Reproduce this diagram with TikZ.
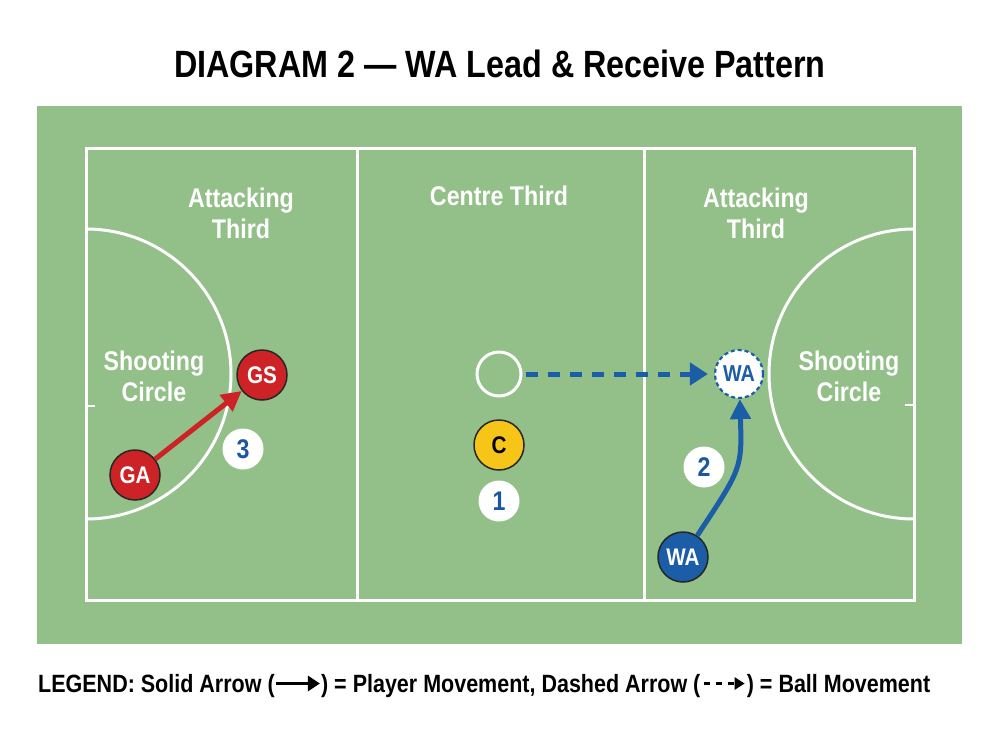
\documentclass[tikz,border=0pt]{standalone}
\usepackage{fontspec}
\setmainfont{Liberation Sans}[FakeStretch=0.86]
\newfontfamily\titlefont{Liberation Sans}[FakeStretch=0.85]
\usetikzlibrary{arrows.meta}
\definecolor{courtgreen}{HTML}{93BF88}
\definecolor{netred}{HTML}{CD2327}
\definecolor{netblue}{HTML}{1B5DA6}
\definecolor{numblue}{HTML}{1A57A3}
\definecolor{netyellow}{HTML}{F7C518}
\tikzset{
  court/.style={draw=white, line width=3pt},
  courtlabel/.style={text=white, font=\bfseries\fontsize{27}{31}\selectfont, align=center, inner sep=0pt},
  player/.style={circle, minimum size=50pt, inner sep=0pt, draw=black!85, line width=1.5pt, text=white, font=\bfseries\fontsize{24}{26}\selectfont},
  ghost/.style={circle, minimum size=48pt, inner sep=0pt, fill=white, draw=netblue, line width=2.2pt, dash pattern=on 4pt off 3pt, text=netblue, font=\bfseries\fontsize{23}{24}\selectfont},
  ballmark/.style={circle, minimum size=44pt, inner sep=0pt, draw=white, line width=3pt},
  num/.style={circle, minimum size=41pt, inner sep=0pt, fill=white, text=numblue, font=\bfseries\fontsize{27}{28}\selectfont},
  redarrow/.style={draw=netred, line width=5pt, -{Triangle[length=20pt,width=20pt]}},
  bluearrow/.style={draw=netblue, line width=5pt, -{Triangle[length=20pt,width=20pt]}},
  ballarrow/.style={draw=netblue, line width=5pt, dash pattern=on 12pt off 10pt, -{Triangle[length=18pt,width=22pt]}, shorten >=6pt, shorten <=3pt},
  legendtext/.style={anchor=base west, inner sep=0pt, font=\bfseries\fontsize{25}{27}\selectfont},
  legendsolid/.style={draw=black, line width=3.5pt, -{Triangle[length=12pt,width=15pt]}, shorten <=1pt, shorten >=1pt},
  legenddash/.style={draw=black, line width=2.5pt, dash pattern=on 6pt off 6pt, -{Triangle[length=10pt,width=12pt]}, shorten <=3pt, shorten >=2pt},
}
\begin{document}
\begin{tikzpicture}[x=1pt, y=-1pt]
\path[use as bounding box, fill=white] (0,0) rectangle (1000,747);
% background
\fill[courtgreen] (37,106) rectangle (962,644);
% court
\draw[court] (86,148) rectangle (914,600);
\draw[court] (357,148) -- (357,600);
\draw[court] (644,148) -- (644,600);
\begin{scope}
  \clip (86,148) rectangle (914,600);
  \draw[court] (86,374) circle[radius=145pt];
  \draw[court] (914,374) circle[radius=145pt];
\end{scope}
\draw[white, line width=1.5pt] (86,406) -- (95,406);
\draw[white, line width=1.5pt] (905,405) -- (914,405);
% title
\node[anchor=base, inner sep=0pt, font=\titlefont\bfseries\fontsize{38}{40}\selectfont] (title) at (500,77) {DIAGRAM 2 — WA Lead \& Receive Pattern};
% court labels
\node[courtlabel] (lat) at (241,213) {Attacking\\Third};
\node[courtlabel, anchor=base] (ct) at (499,205) {Centre Third};
\node[courtlabel] (rat) at (756,213) {Attacking\\Third};
\node[courtlabel] (lsc) at (154,376) {Shooting\\Circle};
\node[courtlabel] (rsc) at (849,376) {Shooting\\Circle};
% players and markers
\node[player, fill=netred] (ga) at (135,475) {GA};
\node[player, fill=netred] (gs) at (262,375) {GS};
\node[player, fill=netyellow, text=black] (c) at (499,445) {C};
\node[player, fill=netblue] (wa) at (683,557) {WA};
\node[ballmark] (ball) at (499,374) {};
\node[ghost] (wad) at (739,374) {WA};
\node[num] (n1) at (499,501) {1};
\node[num] (n2) at (704,467) {2};
\node[num] (n3) at (243,449) {3};
% movements
\draw[redarrow] (ga) -- (gs);
\draw[bluearrow] (wa) .. controls (742,468) .. (wad);
\draw[ballarrow] (ball) -- (wad);
% legend
\node[legendtext] (lg1) at (38,692) {LEGEND: Solid Arrow (};
\node[legendtext] (lg2) at ([xshift=46pt]lg1.base east) {) = Player Movement, Dashed Arrow (};
\node[legendtext] (lg3) at ([xshift=46pt]lg2.base east) {) = Ball Movement};
\draw[legendsolid] ([yshift=8.5pt]lg1.base east) -- ([yshift=8.5pt]lg2.base west);
\draw[legenddash] ([yshift=8.5pt]lg2.base east) -- ([yshift=8.5pt]lg3.base west);
\end{tikzpicture}
\end{document}
